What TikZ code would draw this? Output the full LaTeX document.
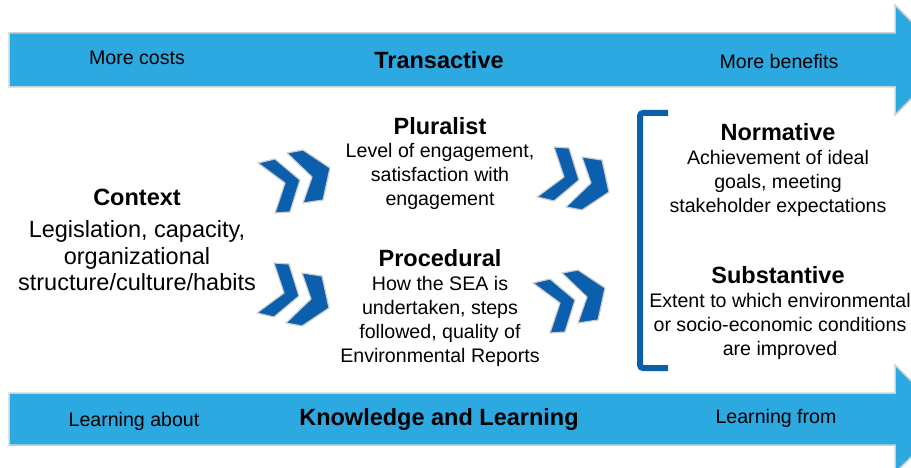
\documentclass[tikz,border=0pt]{standalone}
\usepackage{fontspec}
\setmainfont{Liberation Sans}
\definecolor{barblue}{HTML}{2DA9E1}
\definecolor{darkblue}{HTML}{0B5FAD}
\tikzset{
  bar/.style={fill=barblue, draw=black!18, line width=1.5pt},
  chev/.style={fill=darkblue, draw=black!20, line width=1.2pt, line join=round},
  chevrons/.pic={
    \draw[chev] (0,0) -- (17,-4) -- (42,17) -- (32,49) -- (17,50) -- (27,20) -- cycle;
    \draw[chev] (29,-10) -- (45,-13) -- (72,5) -- (65,37) -- (45,40) -- (54,14) -- cycle;
  },
  head/.style={font=\fontsize{23.5}{26}\selectfont\bfseries, inner sep=0pt},
  big/.style={font=\fontsize{23.5}{26.5}\selectfont, align=center, inner sep=0pt},
  small/.style={font=\fontsize{19.6}{24}\selectfont, align=center, inner sep=0pt},
}
\begin{document}
\begin{tikzpicture}[x=1pt,y=-1pt]
        \useasboundingbox (0,0) rectangle (911,468);
        \fill[white] (0,0) rectangle (911,468);

        % the two long arrows
        \draw[bar] (9,33) -- (895,33) -- (895,5) -- (950,60) -- (895,115) -- (895,87) -- (9,87) -- cycle;
        \draw[bar] (9,393) -- (895,393) -- (895,365) -- (950,419) -- (895,473) -- (895,445) -- (9,445) -- cycle;

        \node[small] (costs) at (137,58) {More costs};
        \node[head] (trans) at (439,60) {Transactive};
        \node[small] (benefits) at (779,61) {More benefits};

        \node[small] (about) at (134,421) {Learning about};
        \node[head] (knowl) at (439,419) {Knowledge and Learning};
        \node[small] (from) at (776,418) {Learning from};

        % context
        \node[head] (context) at (137,197) {Context};
        \node[big] (contextbody) at (137,256) {Legislation, capacity,\\organizational\\structure/culture/habits};

        % middle
        \node[head] (plural) at (440,126) {Pluralist};
        \node[small] (pluralbody) at (440,176) {Level of engagement,\\satisfaction with\\engagement};
        \node[head] (proc) at (440,258) {Procedural};
        \node[small] (procbody) at (440,321) {How the SEA is\\undertaken, steps\\followed, quality of\\Environmental Reports};

        % right
        \node[head] (norm) at (778,132) {Normative};
        \node[small] (normbody) at (778,183) {Achievement of ideal\\goals, meeting\\stakeholder expectations};
        \node[head] (subst) at (778,275) {Substantive};
        \node[small] (substbody) at (780,326) {Extent to which environmental\\or socio-economic conditions\\are improved};

        \draw[darkblue, line width=6pt, rounded corners=3pt] (668,113) -- (640,113) -- (640,368) -- (668,368);

        % chevrons
        \pic (upleft) at (258,163) {chevrons};
        \pic[yscale=-1] (lowleft) at (257,313) {chevrons};
        \pic[yscale=-1] (upright) at (537,197) {chevrons};
        \pic (lowright) at (533,283) {chevrons};
    \end{tikzpicture}
\end{document}
